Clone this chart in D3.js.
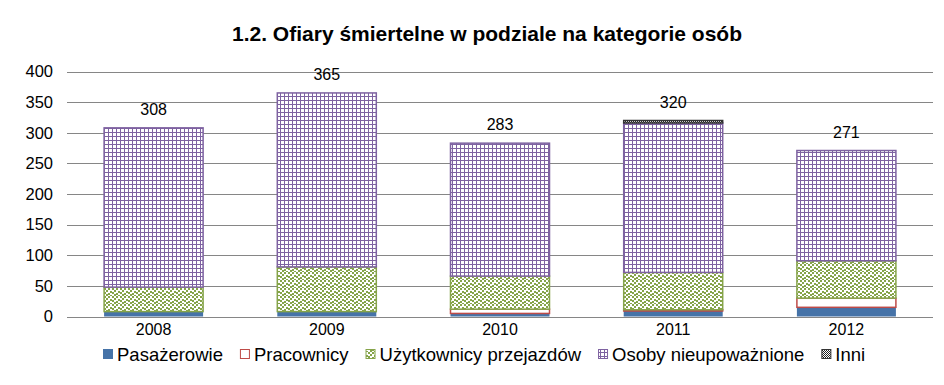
<!DOCTYPE html>
<html>
<head>
<meta charset="utf-8">
<script src="https://cdn.jsdelivr.net/npm/d3@7/dist/d3.min.js"></script>
<style>
  body { margin: 0; background: #fff; }
  text { font-family: "Liberation Sans", Arial, sans-serif; fill: #000; }
</style>
</head>
<body>
<div id="chart"></div>
<script>
var years = ["2008", "2009", "2010", "2011", "2012"];
var pasazerowie = [8, 8, 5, 9, 15];
var pracownicy = [0, 0, 7, 2, 15];
var uzytkownicy = [40, 73, 54, 61, 61];
var osoby = [260, 284, 217, 244, 180];
var inni = [0, 0, 0, 4, 0];
var yTicks = [0, 50, 100, 150, 200, 250, 300, 350, 400];

var seriesNames = ["Pasażerowie", "Pracownicy", "Użytkownicy przejazdów", "Osoby nieupoważnione", "Inni"];
var seriesKeys = ["pas", "pra", "uzy", "oso", "inn"];

var width = 944, height = 385;

var rows = years.map(function (y, i) {
  return { year: y, pas: pasazerowie[i], pra: pracownicy[i], uzy: uzytkownicy[i], oso: osoby[i], inn: inni[i] };
});

var svg = d3.select("#chart").append("svg")
  .attr("width", width)
  .attr("height", height);

var defs = svg.append("defs");

// green dotted pattern
var pg = defs.append("pattern").attr("id", "pat-uzy")
  .attr("patternUnits", "userSpaceOnUse").attr("width", 8).attr("height", 8);
pg.append("rect").attr("width", 8).attr("height", 8).attr("fill", "#fff");
[[0, 0], [4, 0], [2, 2], [6, 3], [0, 4], [4, 5], [2, 6], [6, 7]].forEach(function (p) {
  pg.append("rect").attr("x", p[0]).attr("y", p[1]).attr("width", 2).attr("height", 2).attr("fill", "#86A44A");
});

// purple grid pattern
var pp = defs.append("pattern").attr("id", "pat-oso")
  .attr("patternUnits", "userSpaceOnUse").attr("width", 4).attr("height", 4);
pp.append("rect").attr("width", 4).attr("height", 4).attr("fill", "#fff");
pp.append("rect").attr("width", 4).attr("height", 1).attr("fill", "#7E62A1");
pp.append("rect").attr("width", 1).attr("height", 4).attr("fill", "#7E62A1");

// dark checker pattern
var pi = defs.append("pattern").attr("id", "pat-inn")
  .attr("patternUnits", "userSpaceOnUse").attr("width", 2).attr("height", 2);
pi.append("rect").attr("width", 2).attr("height", 2).attr("fill", "#fff");
pi.append("rect").attr("width", 1).attr("height", 1).attr("fill", "#222");
pi.append("rect").attr("x", 1).attr("y", 1).attr("width", 1).attr("height", 1).attr("fill", "#222");

var fills = { pas: "#4673A8", pra: "#fff", uzy: "url(#pat-uzy)", oso: "url(#pat-oso)", inn: "url(#pat-inn)" };
var strokes = { pas: "#4673A8", pra: "#BE4B48", uzy: "#86A44A", oso: "#7E62A1", inn: "#333" };

var x = d3.scaleBand().domain(years).range([67, 933]).paddingInner(0.4226).paddingOuter(0.2113);
var y = d3.scaleLinear().domain([0, 400]).range([316.5, 71.5]);

// title
svg.append("text")
  .attr("x", 487).attr("y", 41)
  .attr("text-anchor", "middle")
  .style("font-size", "21px").style("font-weight", "bold")
  .text("1.2. Ofiary śmiertelne w podziale na kategorie osób");

// gridlines
svg.append("g").selectAll("line").data(yTicks).enter().append("line")
  .attr("x1", 67).attr("x2", 933)
  .attr("y1", function (d) { return Math.round(y(d)) + 0.5; })
  .attr("y2", function (d) { return Math.round(y(d)) + 0.5; })
  .attr("stroke", "#868686").attr("stroke-width", 1);

// y axis labels
var yAxis = d3.axisLeft(y).tickValues(yTicks).tickSize(0).tickPadding(0);
var yg = svg.append("g").attr("transform", "translate(53,0)").call(yAxis);
yg.select(".domain").remove();
yg.selectAll("text").style("font-size", "16.5px").style("font-family", "Liberation Sans, Arial, sans-serif").attr("fill", "#000");

// bars
var stack = d3.stack().keys(seriesKeys);
var layers = stack(rows);

svg.append("g").selectAll("g").data(layers).enter().append("g")
  .each(function (layer) {
    var key = layer.key;
    d3.select(this).selectAll("rect").data(layer.filter(function (d) { return d[1] - d[0] > 0; }))
      .enter().append("rect")
      .attr("x", function (d) { return x(d.data.year) + 0.5; })
      .attr("width", x.bandwidth() - 1)
      .attr("y", function (d) { return y(d[1]); })
      .attr("height", function (d) { return y(d[0]) - y(d[1]); })
      .attr("fill", fills[key])
      .attr("stroke", strokes[key])
      .attr("stroke-width", key == "pas" ? 0 : 1.5);
  });

// baseline
svg.append("line")
  .attr("x1", 67).attr("x2", 933)
  .attr("y1", Math.round(y(0)) + 0.5).attr("y2", Math.round(y(0)) + 0.5)
  .attr("stroke", "#868686");

// totals
svg.append("g").selectAll("text").data(rows).enter().append("text")
  .attr("x", function (d) { return x(d.year) + x.bandwidth() / 2; })
  .attr("y", function (d) { return y(d.pas + d.pra + d.uzy + d.oso + d.inn) - 13; })
  .attr("text-anchor", "middle")
  .style("font-size", "16px")
  .text(function (d) { return d.pas + d.pra + d.uzy + d.oso + d.inn; });

// x labels
var xAxis = d3.axisBottom(x).tickSize(0).tickPadding(0);
var xg = svg.append("g").attr("transform", "translate(0,324)").call(xAxis);
xg.select(".domain").remove();
xg.selectAll("text").style("font-size", "16px").style("font-family", "Liberation Sans, Arial, sans-serif").attr("fill", "#000").attr("dy", "0.71em");

// legend
var legend = svg.append("g");
var lx = 103;
seriesKeys.forEach(function (k, i) {
  legend.append("rect")
    .attr("x", lx + 0.5).attr("y", 349.5).attr("width", 9).attr("height", 9)
    .attr("fill", fills[k]).attr("stroke", strokes[k]).attr("stroke-width", 1);
  var t = legend.append("text")
    .attr("x", lx + 14).attr("y", 361)
    .style("font-size", "18.5px")
    .text(seriesNames[i]);
  lx = lx + 14 + t.node().getComputedTextLength() + 17;
});
</script>
</body>
</html>
